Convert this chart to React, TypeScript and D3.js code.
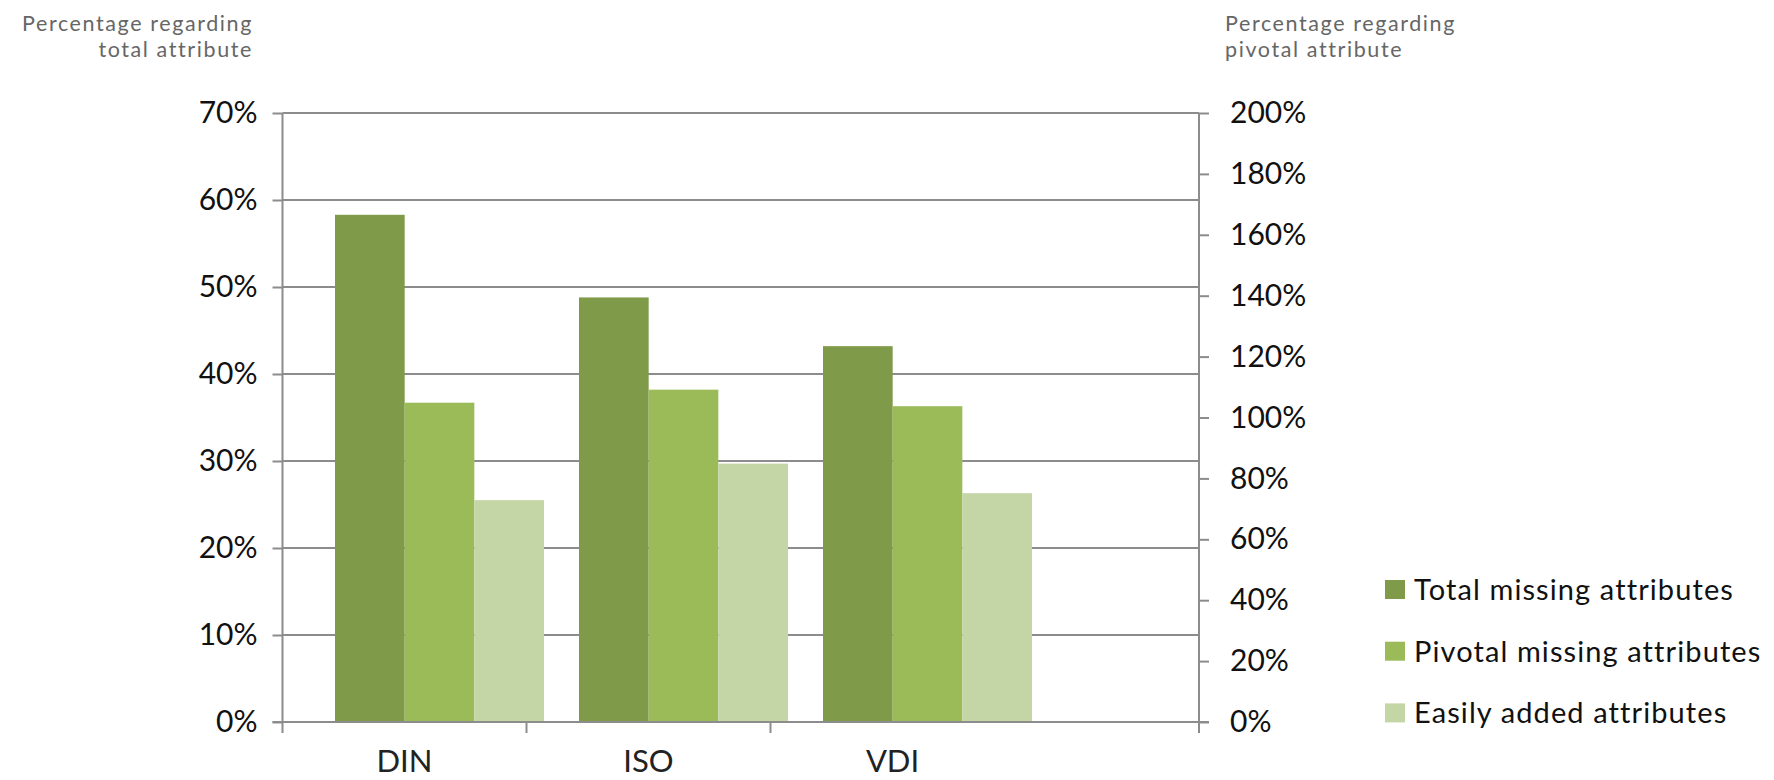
import React, { useEffect, useRef } from 'react';
import * as d3 from 'd3';

// categories and series
const categories = ['DIN', 'ISO', 'VDI'];
const seriesNames = ['Total missing attributes', 'Pivotal missing attributes', 'Easily added attributes'];
const totalMissing = [0.583, 0.488, 0.432];
const pivotalMissing = [0.367, 0.382, 0.363];
const easilyAdded = [0.255, 0.297, 0.263];
const seriesValues = [totalMissing, pivotalMissing, easilyAdded];

const leftTicks = [0, 0.1, 0.2, 0.3, 0.4, 0.5, 0.6, 0.7];
const rightTicks = [0, 0.2, 0.4, 0.6, 0.8, 1.0, 1.2, 1.4, 1.6, 1.8, 2.0];

const leftTitle = ['Percentage regarding', 'total attribute'];
const rightTitle = ['Percentage regarding', 'pivotal attribute'];

const colors = ['#7f9a48', '#9bbb59', '#c4d6a6'];
const gridColor = '#8c8c8c';
const font = 'Lato, "Open Sans", sans-serif';

export default function App() {
    const width = 1774;
    const height = 780;
    const margin = { top: 113, right: 575, bottom: 58, left: 282.5 };
    const plotRight = width - margin.right;
    const plotBottom = height - margin.bottom;
    const step = 244;
    const shift = 35;

    const yLeft = d3.scaleLinear().domain([0, 0.7]).range([plotBottom, margin.top]);
    const yRight = d3.scaleLinear().domain([0, 2]).range([plotBottom, margin.top]);

    // label / tick band
    const xCat = d3.scaleBand<string>()
        .domain(categories)
        .range([margin.left, margin.left + step * categories.length]);

    // bar groups sit a bit right of the label bands
    const pad = shift / step;
    const xBar = d3.scaleBand<string>()
        .domain(categories)
        .range([margin.left + shift, margin.left + shift + step * categories.length])
        .paddingInner(pad)
        .paddingOuter(pad / 2);

    const xSeries = d3.scaleBand<string>()
        .domain(seriesNames)
        .range([0, xBar.bandwidth()]);

    const leftRef = useRef<SVGGElement>(null);
    const rightRef = useRef<SVGGElement>(null);

    useEffect(() => {
        const fmt = d3.format('.0%');
        const la = d3.select(leftRef.current);
        la.selectAll('*').remove();
        la.call(d3.axisLeft(yLeft).tickValues(leftTicks).tickFormat(fmt as any).tickSize(10).tickPadding(15));
        la.select('.domain').remove();
        la.selectAll('.tick line').attr('stroke', gridColor).attr('stroke-width', 2);
        la.selectAll('.tick text')
            .attr('font-family', font).attr('font-size', 30).attr('fill', '#111');

        const ra = d3.select(rightRef.current);
        ra.selectAll('*').remove();
        ra.call(d3.axisRight(yRight).tickValues(rightTicks).tickFormat(fmt as any).tickSize(10).tickPadding(21));
        ra.select('.domain').remove();
        ra.selectAll('.tick line').attr('stroke', gridColor).attr('stroke-width', 2);
        ra.selectAll('.tick text')
            .attr('font-family', font).attr('font-size', 30).attr('fill', '#111')
            .attr('text-anchor', 'start');
    }, []);

    return (
        <svg width={width} height={height} style={{ position: 'absolute', left: 0, top: 0, background: '#fff' }}>
            {/* axis titles */}
            <g fontFamily={font} fontSize={21.5} fill="#666" letterSpacing={1.6}>
                {leftTitle.map((t, i) => (
                    <text key={'l' + i} x={253} y={31 + i * 26} textAnchor="end">{t}</text>
                ))}
                {rightTitle.map((t, i) => (
                    <text key={'r' + i} x={1225} y={31 + i * 26}>{t}</text>
                ))}
            </g>

            {/* gridlines */}
            <g>
                {leftTicks.filter(t => t > 0).map(t => (
                    <line key={t} x1={margin.left} x2={plotRight} y1={yLeft(t)} y2={yLeft(t)}
                        stroke={gridColor} strokeWidth={2} />
                ))}
            </g>

            {/* bars */}
            <g>
                {categories.map((c, ci) => (
                    <g key={c} transform={`translate(${xBar(c)},0)`}>
                        {seriesNames.map((s, si) => (
                            <rect key={s}
                                x={xSeries(s)}
                                y={yLeft(seriesValues[si][ci])}
                                width={xSeries.bandwidth()}
                                height={plotBottom - yLeft(seriesValues[si][ci])}
                                fill={colors[si]} />
                        ))}
                    </g>
                ))}
            </g>

            {/* axes lines */}
            <line x1={margin.left - 10} x2={plotRight + 10} y1={plotBottom} y2={plotBottom} stroke={gridColor} strokeWidth={2} />
            <line x1={margin.left} x2={margin.left} y1={margin.top} y2={plotBottom + 11} stroke={gridColor} strokeWidth={2} />
            <line x1={plotRight} x2={plotRight} y1={margin.top} y2={plotBottom + 11} stroke={gridColor} strokeWidth={2} />
            {categories.slice(1).map(c => (
                <line key={c} x1={xCat(c)} x2={xCat(c)} y1={plotBottom} y2={plotBottom + 11}
                    stroke={gridColor} strokeWidth={2} />
            ))}

            <g ref={leftRef} transform={`translate(${margin.left},0)`} />
            <g ref={rightRef} transform={`translate(${plotRight},0)`} />

            {/* category labels */}
            <g fontFamily={font} fontSize={31} fill="#222" textAnchor="middle">
                {categories.map(c => (
                    <text key={c} x={(xCat(c) as number) + xCat.bandwidth() / 2} y={772}>{c}</text>
                ))}
            </g>

            {/* legend */}
            <g fontFamily={font} fontSize={29} fill="#111" letterSpacing={1.1}>
                {seriesNames.map((s, i) => (
                    <g key={s} transform={`translate(1385,${580 + i * 61.7})`}>
                        <rect x={0} y={0} width={20} height={19} fill={colors[i]} />
                        <text x={29} y={20}>{s}</text>
                    </g>
                ))}
            </g>
        </svg>
    );
}
